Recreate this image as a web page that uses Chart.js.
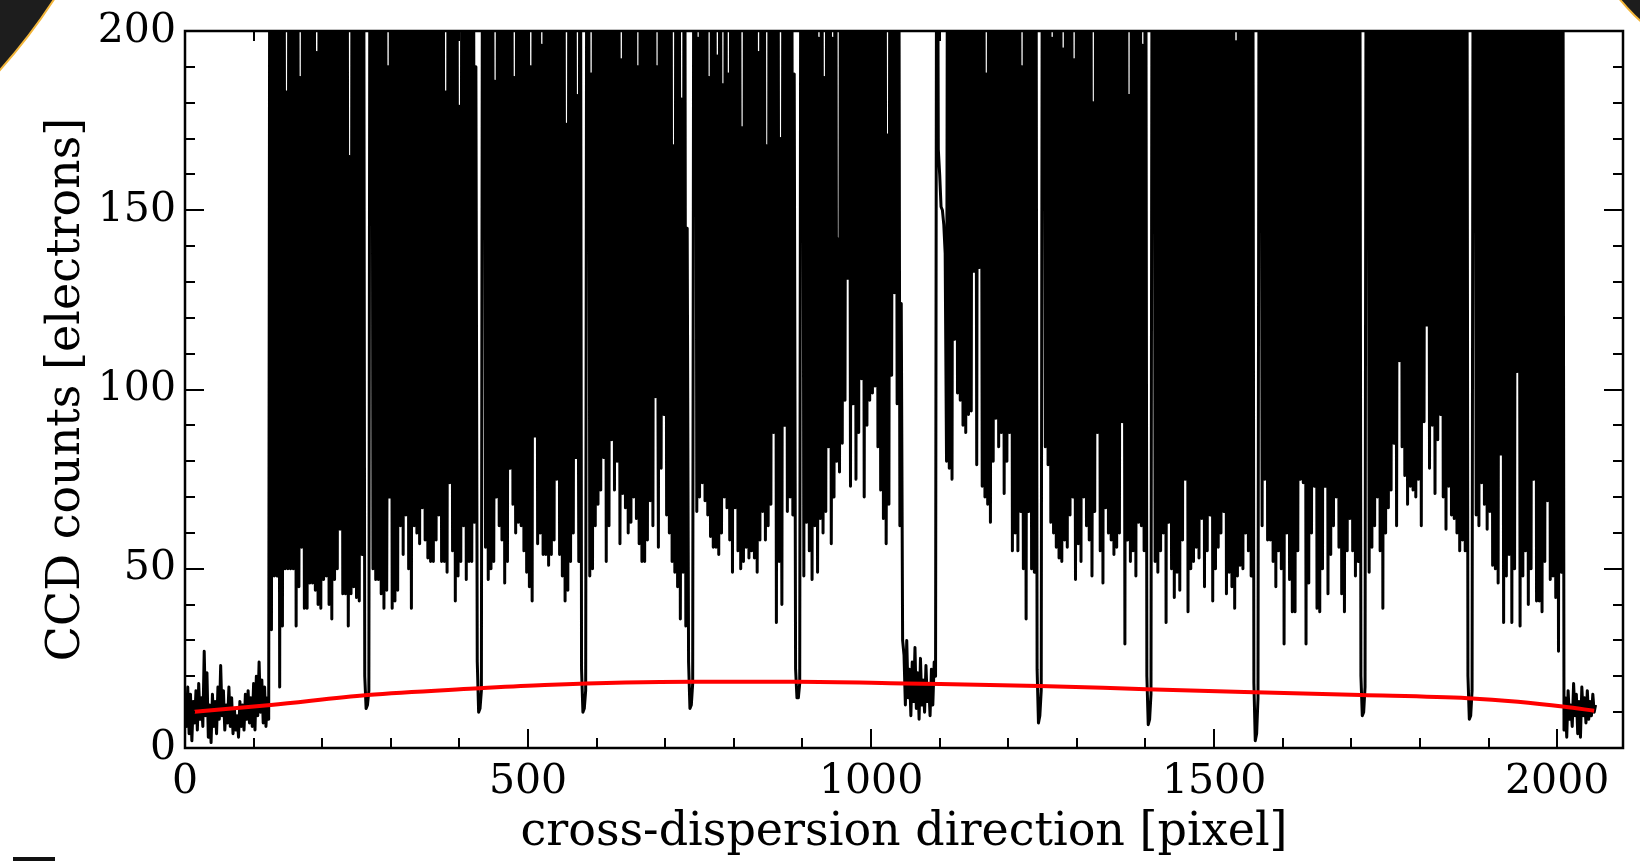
<!DOCTYPE html>
<html><head><meta charset="utf-8">
<script src="https://cdn.jsdelivr.net/npm/chart.js@4.4.1/dist/chart.umd.min.js"></script>
<style>
html,body{margin:0;padding:0;background:#fff;}
#wrap{position:relative;width:1640px;height:861px;overflow:hidden;background:#fff;}
#c{position:absolute;left:0;top:0;}
.deco{position:absolute;border-radius:50%;background:#1d1d1d;border:2px solid #f2b53a;box-sizing:border-box;}
</style></head><body>
<div id="wrap">
<canvas id="c" width="1640" height="861"></canvas>
<div class="deco" style="left:-1056px;top:-935px;width:1209px;height:1209px"></div>
<div class="deco" style="left:1565px;top:-385px;width:470px;height:470px"></div>
<div style="position:absolute;left:13px;top:857px;width:42px;height:4px;background:#111"></div>
</div>
<script>
// CCD counts read every 2 pixels along the cross-dispersion direction:
// peakCounts at pixel 4k, valleyCounts at pixel 4k+2 (values > 200 are off-scale/saturated)
const peakCounts = [
14,17,15,13,16,18,14,27,21,12,
15,13,17,23,16,12,17,14,11,9,
13,12,15,16,14,18,20,24,19,17,
14,310,295,330,285,320,305,183,340,290,
315,300,187,325,290,310,335,295,194,305,
320,290,310,300,335,285,315,305,325,295,
165,310,290,330,300,315,11,16,320,305,
290,335,300,310,190,285,325,305,295,315,
300,330,290,310,320,295,305,340,285,315,
310,295,325,300,290,183,315,305,330,295,
179,310,300,320,290,305,190,10,16,300,
295,315,305,186,290,330,310,300,320,295,
187,305,315,290,325,300,190,310,295,320,
196,300,315,290,330,305,295,320,310,174,
300,325,290,182,315,10,16,295,188,320,
310,290,330,300,315,295,325,305,290,192,
310,300,320,295,330,190,305,290,315,300,
325,295,190,310,300,320,290,305,168,315,
300,181,320,145,11,18,310,198,330,300,
305,187,315,290,193,325,185,300,188,310,
295,320,305,173,290,330,310,300,315,194,
305,290,168,320,300,315,295,170,310,325,
300,290,188,14,18,305,320,295,330,300,
310,198,290,187,325,305,198,315,142,300,
320,295,310,330,290,305,315,300,325,295,
310,300,320,290,335,305,171,315,295,310,
300,124,26,30,22,24,28,21,25,19,
23,18,22,24,310,160,150,138,320,295,
305,315,290,330,300,310,295,325,305,315,
300,290,188,320,305,295,330,310,300,315,
290,325,305,300,315,190,295,320,310,300,
305,7,16,290,330,300,198,310,295,320,
195,305,315,290,192,325,300,310,295,315,
305,180,320,295,310,300,330,290,315,305,
300,320,295,310,182,305,290,325,315,196,
310,6.5,15,320,295,315,305,330,290,310,
300,325,295,315,305,290,320,310,300,330,
295,310,305,320,290,315,300,325,310,295,
305,320,290,197,315,300,330,295,310,305,
2,14,300,290,325,305,310,295,320,300,
310,295,330,305,290,315,300,320,295,310,
305,325,290,310,300,315,295,330,305,290,
320,300,310,295,325,305,290,315,300,9,
17,295,320,305,290,330,300,315,295,310,
305,320,290,315,300,325,310,295,305,320,
290,310,300,330,295,315,305,290,320,300,
310,295,325,305,290,315,300,320,8,16,
295,310,320,300,290,325,305,315,295,310,
300,320,290,315,305,330,295,310,300,320,
305,290,315,300,325,295,310,305,320,290,
315,300,310,14,16,12,18,15,13,17,
14,16,13,15,12
];
const valleyCounts = [
6,4,2,7,5,8,6,9,3,1.5,
6,4,8,9,5,7,6,4,5,3,
6,5,8,7,6,5,9,10,7,6,
8,33,48,48,17,34,50,50,50,50,
34,45,56,39,39,46,46,44,40,39,
47,48,40,36,47,50,61,43,43,34,
43,45,42,41,54,20,12,310,50,47,
47,43,39,44,70,39,41,44,62,54,
65,50,39,62,60,57,67,58,53,52,
52,58,65,52,52,49,74,55,41,48,
52,62,47,52,52,63,24,11,300,56,
47,50,52,70,62,58,46,52,78,68,
60,63,62,55,49,45,41,87,57,60,
54,54,51,54,58,75,54,48,41,44,
52,60,81,52,22,11,300,48,50,62,
68,72,81,52,62,86,72,80,57,71,
67,60,63,70,64,57,52,52,58,69,
62,98,56,78,93,65,60,52,49,45,
36,49,34,24,12,300,66,70,74,69,
65,59,56,56,54,60,70,67,58,49,
67,55,50,52,56,53,55,53,49,58,
66,58,62,68,88,35,52,40,90,66,
70,65,22,14,300,48,63,55,47,62,
49,64,60,66,84,57,70,80,77,85,
97,131,73,96,75,88,103,70,90,97,
99,101,84,72,64,57,68,104,127,96,
62,30,12,14,9,13,11,8,12,10,
13,9,12,20,167,151,146,80,78,75,
114,99,97,90,88,93,94,133,79,134,
73,70,68,63,80,92,84,88,71,80,
88,55,60,55,66,50,36,66,50,49,
22,9,300,84,79,63,60,56,53,52,
58,56,65,70,47,57,52,70,62,58,
48,66,88,55,46,67,60,58,54,56,
60,91,29,58,52,55,48,63,62,55,
20,8,300,52,49,55,60,35,63,50,
42,49,44,58,75,38,50,52,56,53,
64,45,55,65,41,50,56,60,66,43,
49,45,39,48,51,50,60,55,48,18,
4,300,62,75,58,58,52,45,55,50,
29,60,47,38,38,55,75,74,29,46,
60,73,39,38,50,73,43,54,62,70,
56,43,38,55,64,55,48,52,20,10,
300,49,56,62,70,55,39,60,67,72,
85,62,108,84,76,68,73,72,70,75,
62,91,118,78,90,71,86,93,70,61,
73,65,64,60,55,58,55,20,9,300,
65,62,74,68,61,66,51,50,46,82,
35,48,54,35,50,105,34,48,55,40,
50,75,41,41,38,52,69,47,48,42,
27,49,5,3,8,6,9,4,3,9,
7,8,9,10
];
// background fit (red curve)
const fitPixels = [14, 125, 266, 422, 524, 738, 893, 1049, 1245, 1401, 1574, 1714, 1870, 1943, 2011, 2054];
const fitCounts = [10.1, 12.0, 14.8, 16.6, 17.6, 18.5, 18.5, 18.0, 17.3, 16.4, 15.5, 14.8, 13.9, 12.9, 11.5, 10.4];
// axis ticks
const xMajorTicks = [0, 500, 1000, 1500, 2000];
const xMinorTicks = [100,200,300,400,600,700,800,900,1100,1200,1300,1400,1600,1700,1800,1900,2100];
const yMajorTicks = [0, 50, 100, 150, 200];
const yMinorTicks = [10,20,30,40,60,70,80,90,110,120,130,140,160,170,180,190];

const spectrum = [];
for (let k = 0; k < peakCounts.length; k++) {
  spectrum.push({x: 4 * k, y: peakCounts[k]});
  if (k < valleyCounts.length) spectrum.push({x: 4 * k + 2, y: valleyCounts[k]});
}
const fit = fitPixels.map((p, i) => ({x: p, y: fitCounts[i]}));

const FONT = 'DejaVu Serif';
const X_MAX = 2096, Y_MAX = 200;

const frameAndTicks = {
  id: 'frameAndTicks',
  afterDatasetsDraw(chart) {
    const {ctx, chartArea: a, scales: {x, y}} = chart;
    ctx.save();
    ctx.strokeStyle = '#000';
    ctx.lineWidth = 2;
    ctx.lineCap = 'butt';
    ctx.beginPath();
    const xt = (vals, L) => vals.forEach(v => {
      if (v > X_MAX) return;
      const p = Math.round(x.getPixelForValue(v));
      ctx.moveTo(p, a.bottom); ctx.lineTo(p, a.bottom - L);
      ctx.moveTo(p, a.top); ctx.lineTo(p, a.top + L);
    });
    const yt = (vals, L) => vals.forEach(v => {
      const p = Math.round(y.getPixelForValue(v));
      ctx.moveTo(a.left, p); ctx.lineTo(a.left + L, p);
      ctx.moveTo(a.right, p); ctx.lineTo(a.right - L, p);
    });
    xt(xMajorTicks, 19); xt(xMinorTicks, 10);
    yt(yMajorTicks, 19); yt(yMinorTicks, 10);
    ctx.stroke();
    ctx.lineWidth = 2.5;
    ctx.strokeRect(a.left, a.top, a.right - a.left, a.bottom - a.top);
    ctx.restore();
  }
};

new Chart(document.getElementById('c'), {
  type: 'line',
  data: {
    datasets: [
      {
        label: 'fit',
        data: fit,
        borderColor: '#ff0000',
        borderWidth: 4,
        pointRadius: 0,
        cubicInterpolationMode: 'monotone',
        fill: false,
        order: 0
      },
      {
        label: 'counts',
        data: spectrum,
        borderColor: '#000000',
        borderWidth: 3,
        borderJoinStyle: 'round',
        pointRadius: 0,
        tension: 0,
        fill: false,
        clip: 0,
        order: 1
      }
    ]
  },
  options: {
    responsive: false,
    maintainAspectRatio: false,
    animation: false,
    devicePixelRatio: 1,
    events: [],
    layout: {padding: {left: 0, right: 17, top: 31, bottom: 0}},
    plugins: {legend: {display: false}, tooltip: {enabled: false}},
    scales: {
      x: {
        type: 'linear',
        min: 0, max: X_MAX,
        afterBuildTicks: s => { s.ticks = xMajorTicks.map(v => ({value: v})); },
        afterFit: s => { s.height = 113; },
        grid: {display: false},
        border: {display: false},
        ticks: {color: '#000', font: {family: FONT, size: 41}, padding: 2, maxRotation: 0, autoSkip: false,
                callback: v => String(v)},
        title: {display: true, text: 'cross-dispersion direction [pixel]', color: '#000',
                font: {family: FONT, size: 46}, padding: {top: 0, bottom: 0}}
      },
      y: {
        type: 'linear',
        min: 0, max: Y_MAX,
        afterBuildTicks: s => { s.ticks = yMajorTicks.map(v => ({value: v})); },
        afterFit: s => { s.width = 185; },
        grid: {display: false},
        border: {display: false},
        ticks: {color: '#000', font: {family: FONT, size: 41}, padding: 1, autoSkip: false,
                callback: v => String(v)},
        title: {display: true, text: 'CCD counts [electrons]', color: '#000',
                font: {family: FONT, size: 46}, padding: {top: 39, bottom: 0}}
      }
    }
  },
  plugins: [frameAndTicks]
});
</script>
</body></html>
